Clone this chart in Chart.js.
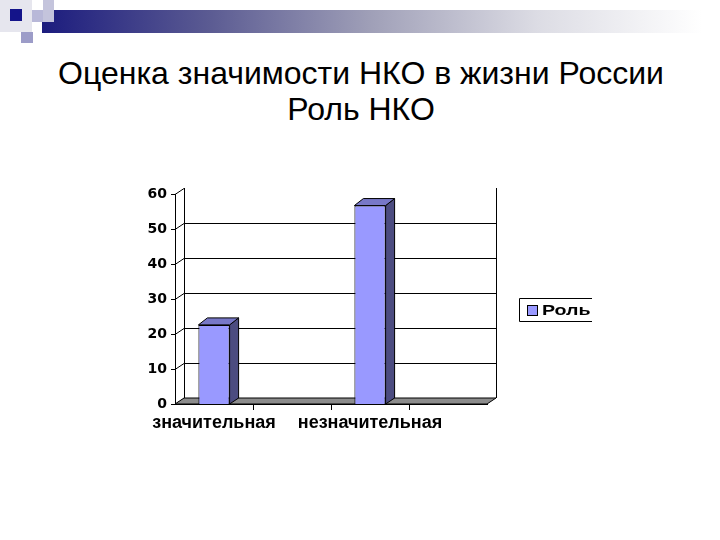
<!DOCTYPE html>
<html>
<head>
<meta charset="utf-8">
<script src="https://cdn.jsdelivr.net/npm/chart.js@4/dist/chart.umd.min.js"></script>
<style>
  body { margin: 0; background: #fff; }
  #slide { position: relative; width: 720px; height: 540px; overflow: hidden; background: #fff; }
  .sq { position: absolute; }
  #title {
    position: absolute; left: 0; top: 55px; width: 722px; text-align: center;
    font-family: "Liberation Sans", Arial, sans-serif; font-size: 32px; line-height: 36px; color: #000;
  }
  #chart { position: absolute; left: 0; top: 0; }
</style>
</head>
<body>
<div id="slide">
  <div class="sq" style="left:0;top:0;width:32px;height:32px;background:#e6e6ee"></div>
  <div class="sq" style="left:42px;top:10px;width:660px;height:23px;background:linear-gradient(to right,#1c1c7e 0%,#5a5a92 25%,#a0a0b8 50%,#dcdce4 75%,#fff 100%)"></div>
  <div class="sq" style="left:32px;top:10px;width:22px;height:12px;background:#b8b8d8"></div>
  <div class="sq" style="left:43px;top:0;width:11px;height:22px;background:#c4c4dc"></div>
  <div class="sq" style="left:10px;top:9px;width:12px;height:12px;background:#14148a"></div>
  <div class="sq" style="left:21px;top:32px;width:12px;height:11px;background:#9c9cc8"></div>
  <div id="title">Оценка значимости НКО в жизни России<br>Роль НКО</div>
  <canvas id="chart" width="720" height="540"></canvas>
</div>
<script>
// данные диаграммы
var categories = ["значительная", "", "незначительная", ""];
var values = [22.6, null, 56.7, null];
var seriesName = "Роль";
var yTicks = [0, 10, 20, 30, 40, 50, 60];

var DX = 9, DY = -6;   // глубина "3D"

var box3d = {
    id: 'box3d',
    beforeDatasetsDraw: function(chart) {
        var ctx = chart.ctx, a = chart.chartArea, y = chart.scales.y;
        ctx.save();
        ctx.strokeStyle = '#000';
        ctx.lineWidth = 1;
        // задняя стенка: сетка
        yTicks.forEach(function(v) {
            if (v == 0 || v == 60) return;
            var py = Math.round(y.getPixelForValue(v) + DY) + 0.5;
            ctx.beginPath();
            ctx.moveTo(a.left + DX, py);
            ctx.lineTo(a.right + DX, py);
            ctx.stroke();
        });
        // края стенки
        ctx.beginPath();
        ctx.moveTo(a.left + DX + 0.5, a.top + DY);
        ctx.lineTo(a.left + DX + 0.5, a.bottom + DY);
        ctx.moveTo(a.right + DX + 0.5, a.top + DY);
        ctx.lineTo(a.right + DX + 0.5, a.bottom + DY);
        ctx.stroke();
        // передняя ось и засечки
        ctx.beginPath();
        ctx.moveTo(a.left + 0.5, a.top);
        ctx.lineTo(a.left + 0.5, a.bottom);
        yTicks.forEach(function(v) {
            var py = Math.round(y.getPixelForValue(v)) + 0.5;
            ctx.moveTo(a.left - 4, py);
            ctx.lineTo(a.left, py);
            ctx.lineTo(a.left + DX, py + DY);
        });
        ctx.stroke();
        // пол
        ctx.beginPath();
        ctx.moveTo(a.left, a.bottom);
        ctx.lineTo(a.right, a.bottom);
        ctx.lineTo(a.right + DX, a.bottom + DY);
        ctx.lineTo(a.left + DX, a.bottom + DY);
        ctx.closePath();
        ctx.fillStyle = '#8c8c8c';
        ctx.fill();
        ctx.stroke();
        ctx.restore();
    },
    afterDatasetsDraw: function(chart) {
        var ctx = chart.ctx;
        var meta = chart.getDatasetMeta(0);
        ctx.save();
        ctx.strokeStyle = '#000';
        ctx.lineWidth = 1;
        meta.data.forEach(function(bar, i) {
            if (values[i] == null) return;
            var p = bar.getProps(['x', 'y', 'base', 'width'], true);
            var l = p.x - p.width / 2, r = p.x + p.width / 2;
            var t = p.y, b = p.base;
            // бок
            ctx.beginPath();
            ctx.moveTo(r, t);
            ctx.lineTo(r + DX, t + DY - 1);
            ctx.lineTo(r + DX, b + DY);
            ctx.lineTo(r, b);
            ctx.closePath();
            ctx.fillStyle = '#4c4c80';
            ctx.fill();
            ctx.stroke();
            // верх
            ctx.beginPath();
            ctx.moveTo(l, t);
            ctx.lineTo(l + DX, t + DY - 1);
            ctx.lineTo(r + DX, t + DY - 1);
            ctx.lineTo(r, t);
            ctx.closePath();
            ctx.fillStyle = '#7878c8';
            ctx.fill();
            ctx.stroke();
        });
        ctx.restore();
    },
    afterDraw: function(chart) {
        // легенда в рамке
        var ctx = chart.ctx;
        var ds = chart.data.datasets[0];
        ctx.save();
        ctx.strokeStyle = '#000';
        ctx.lineWidth = 1;
        ctx.beginPath();
        ctx.moveTo(592, 298.5);
        ctx.lineTo(519.5, 298.5);
        ctx.lineTo(519.5, 321.5);
        ctx.lineTo(592, 321.5);
        ctx.stroke();
        ctx.fillStyle = ds.backgroundColor;
        ctx.fillRect(527, 305, 10, 10);
        ctx.strokeRect(527.5, 305.5, 10, 10);
        ctx.fillStyle = '#000';
        ctx.font = 'bold 14px "Liberation Sans", Arial, sans-serif';
        ctx.textBaseline = 'middle';
        ctx.translate(542, 311);
        ctx.scale(1.4, 1);
        ctx.fillText(ds.label, 0, 0);
        ctx.restore();
    }
};

var ctx = document.getElementById("chart").getContext('2d');
var myChart = new Chart(ctx, {
    type: 'bar',
    data: {
        labels: categories,
        datasets: [{
            label: seriesName,
            data: values,
            backgroundColor: '#9999ff',
            borderColor: '#000',
            borderWidth: 1,
            categoryPercentage: 1.0,
            barPercentage: 0.4
        }]
    },
    options: {
        responsive: false,
        animation: false,
        devicePixelRatio: 1,
        layout: { padding: { left: 125, right: 233, top: 194, bottom: 96 } },
        plugins: {
            legend: { display: false },
            tooltip: { enabled: false }
        },
        scales: {
            y: {
                min: 0, max: 60,
                afterFit: function(s) { s.width = 50; },
                grid: { display: false, drawTicks: false },
                border: { display: false },
                ticks: {
                    stepSize: 10, padding: 8, color: '#000',
                    font: { family: '"DejaVu Sans", sans-serif', size: 14, weight: 'bold' }
                }
            },
            x: {
                afterFit: function(s) { s.height = 40; },
                grid: {
                    display: true, drawOnChartArea: false, drawTicks: true, tickLength: 6, offset: true,
                    color: function(c) { return (c.type !== 'tick' || c.index === 0) ? 'rgba(0,0,0,0)' : '#000'; }
                },
                border: { display: true, color: '#000' },
                ticks: {
                    autoSkip: false, maxRotation: 0, minRotation: 0, padding: 2, color: '#000',
                    font: { family: '"Liberation Sans", Arial, sans-serif', size: 18, weight: 'bold' }
                }
            }
        }
    },
    plugins: [box3d]
});
</script>
</body>
</html>
